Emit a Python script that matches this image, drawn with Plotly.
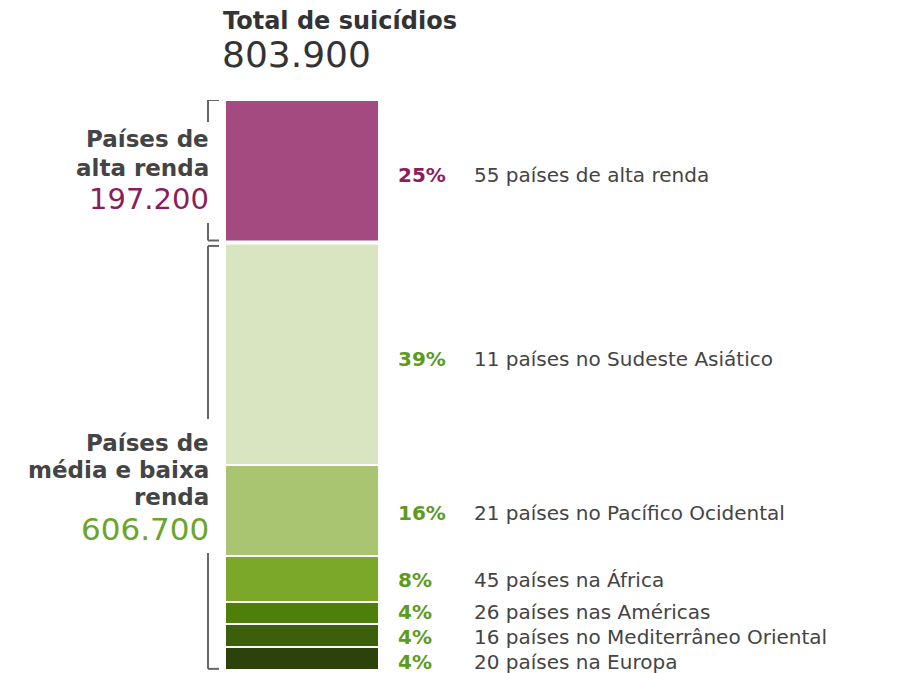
import plotly.graph_objects as go

# ---------------- data ----------------
groups = ["Países de alta renda", "Sudeste Asiático", "Pacífico Ocidental", "África",
          "Américas", "Mediterrâneo Oriental", "Europa"]
pct = [25, 39, 16, 8, 4, 4, 4]
descriptions = ["55 países de alta renda", "11 países no Sudeste Asiático",
                "21 países no Pacífico Ocidental", "45 países na África",
                "26 países nas Américas", "16 países no Mediterrâneo Oriental",
                "20 países na Europa"]
total_label = ["Total de suicídios", "803.900"]
high_label = ["Países de", "alta renda"]
high_value = "197.200"
low_label = ["Países de", "média e baixa", "renda"]
low_value = "606.700"
high_share = 25  # % of high-income countries (top segment)

# ---------------- styles ----------------
seg_colors = ["#A44A80", "#D9E4C0", "#AAC571", "#7CA82A", "#4F7F0B", "#3C5F0B", "#2B430A"]
PURPLE_TXT = "#8C1D5C"
GREEN_TXT = "#5E9A1E"
pct_colors = [PURPLE_TXT] + [GREEN_TXT] * 6
label_shift = [-4, -5, -3, -1, 1, -1, -3]   # small vertical nudges (px)
GRAY = "#444444"
BRACKET = "#666666"
FONT = "DejaVu Sans"

W, H = 915, 673
M_L, M_R, M_T, M_B = 225, 536, 100, 3
PW, PH = W - M_L - M_R, H - M_T - M_B


def xp(px):
    return (px - M_L) / PW


def yp(py):
    return (H - M_B - py) / PH


def yv(py):  # pixel -> y data units (range 0..100)
    return (H - M_B - py) / PH * 100


fig = go.Figure()
base = 0
centers = [0] * len(pct)
for i in reversed(range(len(pct))):
    fig.add_trace(go.Bar(
        x=[0], y=[pct[i]], width=1, name=groups[i],
        marker=dict(color=seg_colors[i], line=dict(color="white", width=2)),
        hoverinfo="skip", showlegend=False))
    centers[i] = base + pct[i] / 2
    base += pct[i]

ann = []
# right-side labels
for i in range(len(pct)):
    ann.append(dict(x=xp(396), y=centers[i], xref="paper", yref="y", xanchor="left",
                    yanchor="middle", yshift=label_shift[i], text=f"<b>{pct[i]}%</b>",
                    showarrow=False, font=dict(family=FONT, size=20, color=pct_colors[i])))
    ann.append(dict(x=xp(472), y=centers[i], xref="paper", yref="y", xanchor="left",
                    yanchor="middle", yshift=label_shift[i], text=descriptions[i],
                    showarrow=False, font=dict(family=FONT, size=20, color=GRAY)))

# title
ann.append(dict(x=xp(221), y=yp(21), xref="paper", yref="paper", xanchor="left",
                yanchor="middle", text=f"<b>{total_label[0]}</b>", showarrow=False,
                font=dict(family=FONT, size=24, color="#333333")))
ann.append(dict(x=xp(220), y=yp(55), xref="paper", yref="paper", xanchor="left",
                yanchor="middle", text=total_label[1], showarrow=False,
                font=dict(family=FONT, size=36, color="#333333")))

# left labels
for txt, py in zip(high_label, [139, 168]):
    ann.append(dict(x=xp(211), y=yp(py), xref="paper", yref="paper", xanchor="right",
                    yanchor="middle", text=f"<b>{txt}</b>", showarrow=False,
                    font=dict(family=FONT, size=23, color=GRAY)))
ann.append(dict(x=xp(211), y=yp(199), xref="paper", yref="paper", xanchor="right",
                yanchor="middle", text=high_value, showarrow=False,
                font=dict(family=FONT, size=29, color=PURPLE_TXT)))
for txt, py in zip(low_label, [443, 470, 497]):
    ann.append(dict(x=xp(211), y=yp(py), xref="paper", yref="paper", xanchor="right",
                    yanchor="middle", text=f"<b>{txt}</b>", showarrow=False,
                    font=dict(family=FONT, size=23, color=GRAY)))
ann.append(dict(x=xp(211), y=yp(529), xref="paper", yref="paper", xanchor="right",
                yanchor="middle", text=low_value, showarrow=False,
                font=dict(family=FONT, size=31, color="#6BA52A")))

# brackets
shapes = []
line = dict(color=BRACKET, width=2)
bx, tx = xp(208), xp(219)
hi_top, hi_bot = 100, 100 - high_share + 0.35
lo_top, lo_bot = 100 - high_share - 0.6, 0.2
# high income
shapes += [
    dict(type="line", xref="paper", yref="y", x0=bx, x1=tx, y0=hi_top, y1=hi_top, line=line),
    dict(type="line", xref="paper", yref="y", x0=bx, x1=bx, y0=hi_top, y1=yv(122), line=line),
    dict(type="line", xref="paper", yref="y", x0=bx, x1=bx, y0=yv(223), y1=hi_bot, line=line),
    dict(type="line", xref="paper", yref="y", x0=bx, x1=tx, y0=hi_bot, y1=hi_bot, line=line),
]
# middle/low income
shapes += [
    dict(type="line", xref="paper", yref="y", x0=bx, x1=tx, y0=lo_top, y1=lo_top, line=line),
    dict(type="line", xref="paper", yref="y", x0=bx, x1=bx, y0=lo_top, y1=yv(419), line=line),
    dict(type="line", xref="paper", yref="y", x0=bx, x1=bx, y0=yv(553), y1=lo_bot, line=line),
    dict(type="line", xref="paper", yref="y", x0=bx, x1=tx, y0=lo_bot, y1=lo_bot, line=line),
]
# wider white gap between high-income and the rest
shapes.append(dict(type="line", xref="x", yref="y", x0=-0.5, x1=0.5,
                   y0=100 - high_share, y1=100 - high_share, layer="above",
                   line=dict(color="white", width=4)))

fig.update_layout(
    barmode="stack",
    width=W, height=H,
    margin=dict(l=M_L, r=M_R, t=M_T, b=M_B, pad=0),
    paper_bgcolor="white", plot_bgcolor="white",
    xaxis=dict(range=[-0.5, 0.5], visible=False, fixedrange=True),
    yaxis=dict(range=[0, 100], visible=False, fixedrange=True),
    annotations=ann, shapes=shapes, bargap=0,
    showlegend=False,
)

fig.write_html("out.html", config={"displayModeBar": False})
